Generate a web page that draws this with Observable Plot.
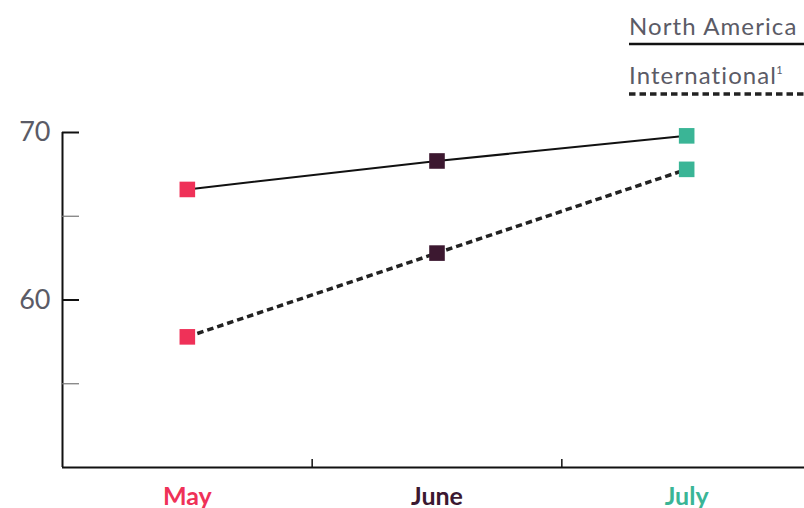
<!DOCTYPE html>
<html>
<head>
<meta charset="utf-8">
<script src="https://cdn.jsdelivr.net/npm/d3@7"></script>
<script src="https://cdn.jsdelivr.net/npm/@observablehq/plot@0.6"></script>
<style>
  html, body { margin: 0; padding: 0; background: #fff; overflow: hidden; }
  #wrap { width: 804px; height: 508px; position: relative; font-family: "Lato", sans-serif; }
  #legend { position: relative; width: 804px; height: 110px; }
  .lg-text { position: absolute; left: 629px; font-size: 24px; color: #5b5b66; letter-spacing: 1.1px; white-space: nowrap; line-height: 1; }
  .lg-line { position: absolute; left: 629px; }
  sup { font-size: 11px; position: relative; top: 1px; vertical-align: top; letter-spacing: 0; margin-left: -1px; }
</style>
</head>
<body>
<div id="wrap">
  <div id="legend"></div>
  <div id="chart"></div>
</div>
<script>
const months = ["May", "June", "July"];
const monthColors = ["#ef3158", "#3c1830", "#3ab596"];
const northAmerica = [66.6, 68.3, 69.8];
const international = [57.8, 62.8, 67.8];
const seriesNames = ["North America", "International"];
const yTicks = [60, 70];
const yMinorTicks = [55, 65];

const rows = [];
months.forEach((m, i) => {
  rows.push({series: seriesNames[0], i, month: m, value: northAmerica[i]});
  rows.push({series: seriesNames[1], i, month: m, value: international[i]});
});
const na = rows.filter(d => d.series === seriesNames[0]);
const intl = rows.filter(d => d.series === seriesNames[1]);
const boundaries = months.slice(1).map((m, i) => i + 0.5);

// Legend
const legend = document.getElementById("legend");
legend.innerHTML = `
  <div class="lg-text" style="top:14px">${seriesNames[0]}</div>
  <svg class="lg-line" style="top:40px" width="175" height="8"><line x1="0" x2="175" y1="4" y2="4" stroke="#111" stroke-width="2.5"/></svg>
  <div class="lg-text" style="top:63px">${seriesNames[1]}<sup>1</sup></div>
  <svg class="lg-line" style="top:90px" width="175" height="8"><line x1="0" x2="175" y1="4" y2="4" stroke="#222" stroke-width="3.5" stroke-dasharray="6.5,4"/></svg>
`;

const chart = Plot.plot({
  width: 804,
  height: 398,
  marginTop: 22,
  marginBottom: 41,
  marginLeft: 62,
  marginRight: 0,
  style: {fontFamily: "Lato, sans-serif", background: "transparent", overflow: "visible"},
  x: {type: "linear", domain: [-0.5, months.length - 0.5], range: [62, 811], axis: null},
  y: {domain: [50, 70], axis: null},
  marks: [
    Plot.ruleY([50], {stroke: "#111", strokeWidth: 2}),
    Plot.ruleX([-0.5], {stroke: "#111", strokeWidth: 2}),
    Plot.axisX(boundaries, {anchor: "bottom", tickSize: 8, dy: -8, tickFormat: () => "", label: null, stroke: "#111", strokeWidth: 1.5}),
    Plot.axisY(yTicks, {anchor: "left", tickSize: 17, dx: 17, tickFormat: () => "", label: null, stroke: "#111", strokeWidth: 2}),
    Plot.axisY(yMinorTicks, {anchor: "left", tickSize: 17, dx: 17, tickFormat: () => "", label: null, stroke: "#777", strokeWidth: 1.2}),
    Plot.axisY(yTicks, {anchor: "left", tickSize: 0, tickPadding: 12, label: null, fontSize: 27, fill: "#5b5b66", tickFormat: d => String(d), style: {letterSpacing: "1.5px"}}),
    Plot.line(na, {x: "i", y: "value", stroke: "#111", strokeWidth: 2}),
    Plot.line(intl, {x: "i", y: "value", stroke: "#222", strokeWidth: 3.5, strokeDasharray: "6.5,4", strokeLinecap: "butt"}),
    Plot.dot(rows, {x: "i", y: "value", symbol: "square", r: 8.8, fill: d => monthColors[d.i], stroke: null}),
    Plot.text(months, {x: (d, i) => i, frameAnchor: "bottom", dy: 37, text: d => d, fill: (d, i) => monthColors[i], fontSize: 25, fontWeight: "bold"})
  ]
});
document.getElementById("chart").appendChild(chart);
</script>
</body>
</html>
